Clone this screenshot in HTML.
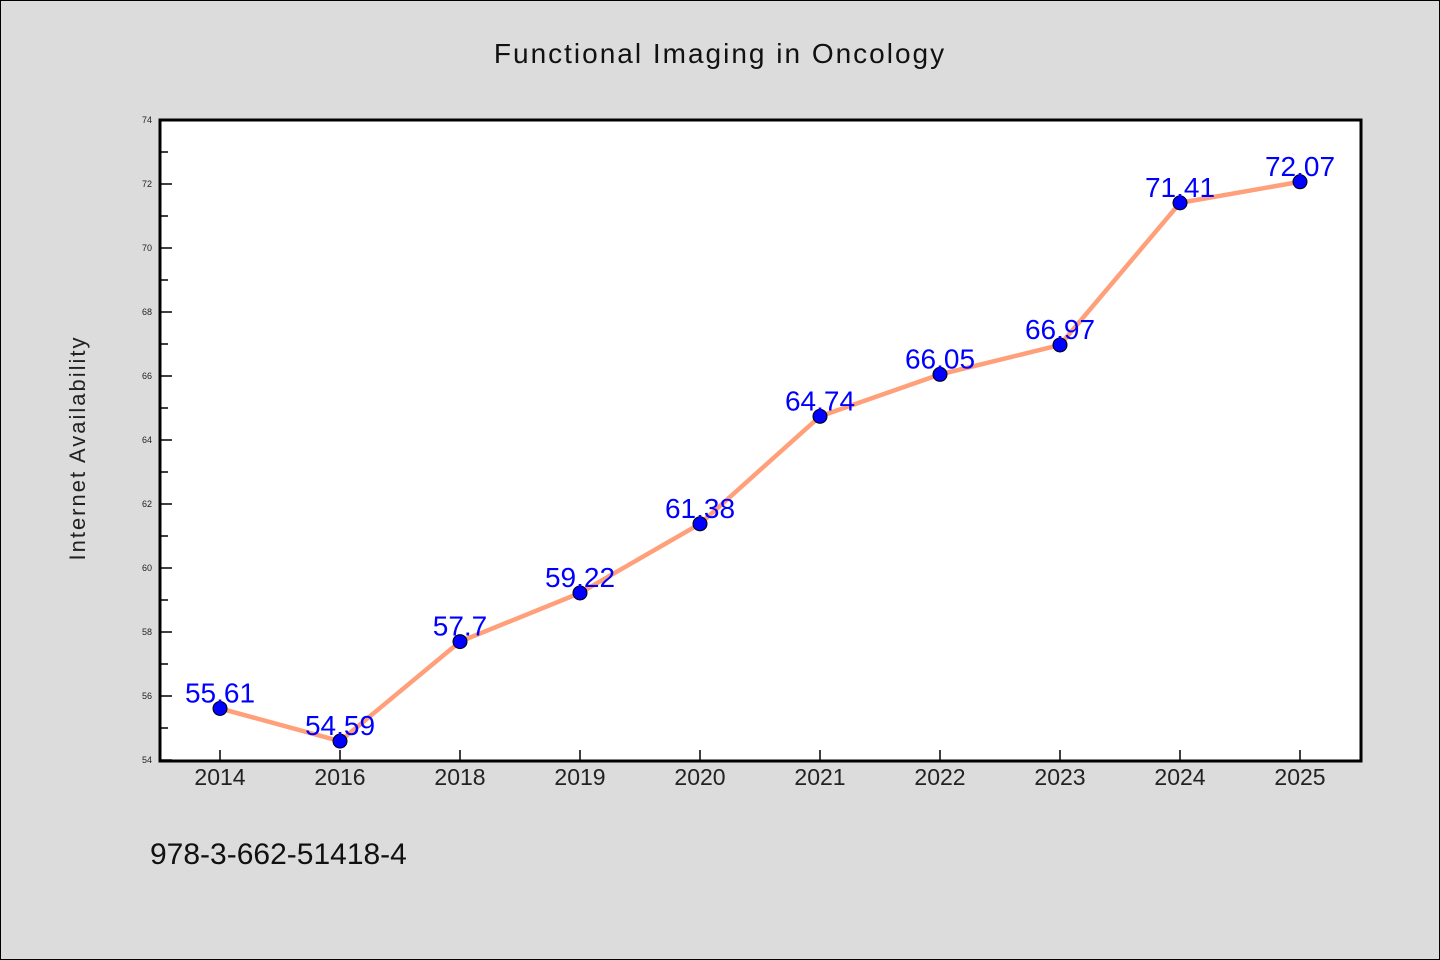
<!DOCTYPE html>
<html><head><meta charset="utf-8"><style>
body{margin:0;background:#dcdcdc;}
svg{display:block;font-family:"WenQuanYi Zen Hei","Liberation Sans",sans-serif;}
</style></head><body>
<svg id="c" width="1440" height="960">
<rect x="0.5" y="0.5" width="1439" height="959" fill="#dcdcdc" stroke="#000"/>
<text x="720" y="63" text-anchor="middle" font-size="28" letter-spacing="2" fill="#111">Functional Imaging in Oncology</text>
<rect x="160" y="120" width="1201" height="641" fill="#fff" stroke="#000" stroke-width="3"/>
<text transform="translate(85,448) rotate(-90)" text-anchor="middle" font-size="22" letter-spacing="2" fill="#222">Internet Availability</text>
<text x="150" y="864" font-size="30" fill="#111">978-3-662-51418-4</text>
<g id="ax"></g><g id="marks"></g>
</svg>
<script>
const categories=["2014","2016","2018","2019","2020","2021","2022","2023","2024","2025"];
const values=[55.61,54.59,57.7,59.22,61.38,64.74,66.05,66.97,71.41,72.07];
const valueLabels=["55.61","54.59","57.7","59.22","61.38","64.74","66.05","66.97","71.41","72.07"];
const yTicks=[54,56,58,60,62,64,66,68,70,72,74];
const NS="http://www.w3.org/2000/svg";
const X0=160,X1=1361,Y0=760,Y1=120,ymin=54,ymax=74;
const xs=i=>220+i*(1300-220)/(categories.length-1);
const ys=v=>Y0-(v-ymin)/(ymax-ymin)*(Y0-Y1);
function mk(t,a,p){const e=document.createElementNS(NS,t);for(const k in a)e.setAttribute(k,a[k]);p.appendChild(e);return e;}
const ax=document.getElementById('ax'),mg=document.getElementById('marks');
yTicks.forEach((v,i)=>{
 const y=ys(v);
 const t=mk('line',{x1:X0,x2:X0+12,y1:y,y2:y,stroke:'#000','stroke-width':1.5},ax);
 
 
 const l=mk('text',{x:X0-8,y:y+3,'text-anchor':'end','font-size':9,fill:'#222'},ax);
 l.textContent=v;
 
 
 if(i<yTicks.length-1){
  const m=ys(v+1);
  const mt=mk('line',{x1:X0,x2:X0+8,y1:m,y2:m,stroke:'#000','stroke-width':1.5},ax);
  
  
 }
});
categories.forEach((c,i)=>{
 const x=xs(i);
 const t=mk('line',{x1:x,x2:x,y1:Y0,y2:Y0-10,stroke:'#000','stroke-width':1.5},ax);
 
 
 const l=mk('text',{x:x,y:Y0+25,'text-anchor':'middle','font-size':23,fill:'#222'},ax);
 l.textContent=c;
 
 
});
const pl=mk('polyline',{points:values.map((v,i)=>xs(i)+','+ys(v)).join(' '),fill:'none',stroke:'#ffa07a','stroke-width':4.5},mg);


values.forEach((v,i)=>{
 const p=mk('circle',{cx:xs(i),cy:ys(v),r:7,fill:'#0000ff',stroke:'#000','stroke-width':1},mg);
 
 
});
values.forEach((v,i)=>{
 const l=mk('text',{x:xs(i),y:ys(v)-6,'text-anchor':'middle','font-size':28,fill:'#0000ff'},mg);
 l.textContent=valueLabels[i];
 
 
});
</script>
</body></html>
